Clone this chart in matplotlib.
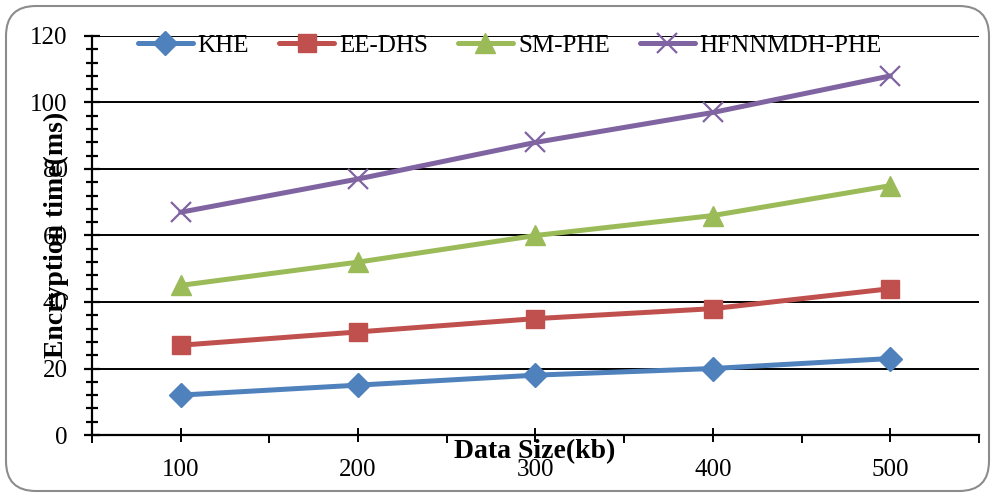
import matplotlib
matplotlib.use('Agg')
import matplotlib.pyplot as plt
from matplotlib.patches import FancyBboxPatch
from matplotlib.ticker import MultipleLocator, FixedLocator

sizes = ['100', '200', '300', '400', '500']
khe = [12, 15, 18, 20, 23]
ee_dhs = [27, 31, 35, 38, 44]
sm_phe = [45, 52, 60, 66, 75]
hfnnmdh_phe = [67, 77, 88, 97, 108]

series = [
    ('KHE', khe, '#4F81BD', 'D', 12),
    ('EE-DHS', ee_dhs, '#C0504D', 's', 13),
    ('SM-PHE', sm_phe, '#9BBB59', '^', 14),
    ('HFNNMDH-PHE', hfnnmdh_phe, '#8064A2', 'x', 14),
]

plt.rcParams['font.family'] = ['Liberation Serif', 'DejaVu Serif']

fig = plt.figure(figsize=(9.95, 4.97), dpi=100)
W, H = 995, 497
ax = fig.add_axes([92 / W, 1 - 435 / H, (979 - 92) / W, (435 - 36) / H])

x = list(range(1, len(sizes) + 1))
for name, vals, col, mk, ms in series:
    ax.plot(x, vals, color=col, lw=3.6, marker=mk, markersize=ms,
            markeredgewidth=1.6 if mk == 'x' else 1, markeredgecolor=col,
            label=name, solid_capstyle='round', zorder=3)

ax.set_xlim(0.5, 5.5)
ax.set_ylim(0, 120)
ax.yaxis.set_major_locator(MultipleLocator(20))
ax.yaxis.set_minor_locator(MultipleLocator(4))
ax.grid(axis='y', color='black', lw=1.4, zorder=1)
ax.set_axisbelow(True)

ax.xaxis.set_major_locator(FixedLocator(x))
ax.set_xticklabels(sizes)
ax.xaxis.set_minor_locator(FixedLocator([i + 0.5 for i in range(0, 6)]))

for s in ['top', 'right']:
    ax.spines[s].set_visible(False)
for s in ['left', 'bottom']:
    ax.spines[s].set_linewidth(1.6)

ax.tick_params(axis='y', which='major', direction='inout', length=11, width=1.6,
               labelsize=18, pad=12)
ax.tick_params(axis='y', which='minor', direction='inout', length=8, width=1.6)
ax.tick_params(axis='x', which='major', direction='inout', length=10, width=1.4,
               labelsize=18, pad=12)
ax.tick_params(axis='x', which='minor', direction='out', length=6, width=1.4)

fig.text(535 / W, 1 - 452 / H, 'Data Size(kb)', ha='center', va='center',
         fontsize=20, fontweight='bold')
fig.text(56 / W, 1 - 235 / H, 'Encryption time(ms)', ha='center', va='center',
         rotation=90, fontsize=20, fontweight='bold')

ax.legend(loc='center', bbox_to_anchor=(0.471, 0.975), ncol=4, frameon=False,
          fontsize=18, handlelength=2.2, handletextpad=0.2, columnspacing=1.2)

border = FancyBboxPatch((6 / W, 6 / H), 983 / W, 485 / H,
                        boxstyle='round,pad=0,rounding_size=0.03',
                        transform=fig.transFigure, fill=False,
                        edgecolor='#8c8c8c', lw=1.5, mutation_aspect=W / H)
fig.patches.append(border)

fig.savefig('out.png', dpi=100)
